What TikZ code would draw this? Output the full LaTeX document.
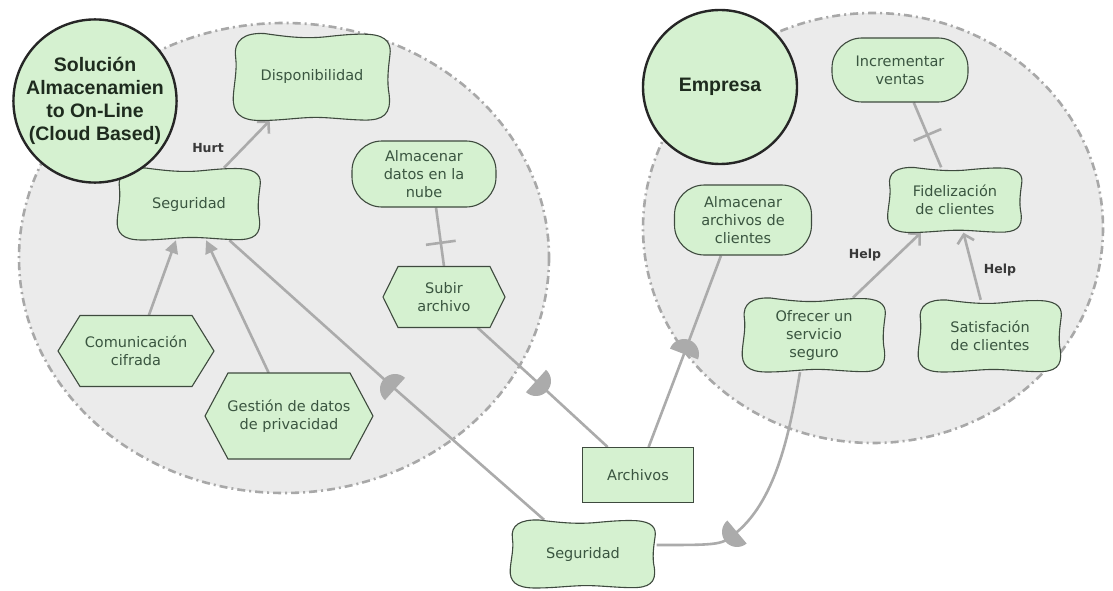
\documentclass[tikz,border=0pt]{standalone}
\usepackage{fontspec}
\setmainfont{DejaVu Sans}
\newfontfamily\actorfont{Liberation Sans}
\usetikzlibrary{calc,arrows.meta}
\definecolor{ngreen}{HTML}{D5F1D0}
\definecolor{nborder}{HTML}{3E4A3E}
\definecolor{ntext}{HTML}{3A5540}
\definecolor{atext}{HTML}{1E2B1E}
\definecolor{ltext}{HTML}{383838}
\definecolor{bfill}{HTML}{EBEBEB}
\definecolor{bline}{HTML}{A8A8A8}
\definecolor{lgray}{HTML}{ABABAB}
\pgfdeclarelayer{bound}
\pgfdeclarelayer{bg}
\pgfsetlayers{bound,bg,main}
\tikzset{
  boundary/.style={fill=bfill, draw=bline, line width=2.6pt, dash pattern=on 8pt off 4pt on 2pt off 4pt},
  actor/.style={circle, draw=black!85, line width=2.4pt, fill=ngreen, inner sep=0pt, align=center, text=atext, font=\actorfont\bfseries\fontsize{19.5}{23}\selectfont},
  nodetext/.style={align=center, text=ntext, font=\fontsize{14.5}{18}\selectfont, inner sep=0pt},
  goal/.style={nodetext, rectangle, rounded corners=30pt, draw=nborder, line width=1.1pt, fill=ngreen},
  resource/.style={nodetext, rectangle, draw=nborder, line width=1pt, fill=ngreen},
  sgtext/.style={nodetext, rectangle},
  shapefill/.style={fill=ngreen, draw=nborder, line width=1.1pt},
  link/.style={draw=lgray, line width=2.6pt},
  contrib/.style={link, -{Straight Barb[length=8pt,width=17pt]}},
  meansend/.style={link, -{Triangle[length=13pt,width=13pt]}},
  lbl/.style={font=\bfseries\fontsize{12.5}{14}\selectfont, text=ltext, inner sep=0pt},
  dmark/.pic={\fill[lgray] (0pt,-15pt) arc[start angle=-90,end angle=90,radius=15pt] -- cycle;}
}
\newcommand\sgoal[6]{%
  \pgfmathsetmacro\sgw{#4/2}%
  \pgfmathsetmacro\sgh{#5/2}%
  \begin{scope}[shift={(#2,#3)}, xscale=\sgw, yscale=\sgh]
    \path[shapefill] (-0.6,-1) .. controls (-0.3,-0.92) and (-0.1,-0.88) .. (0.15,-0.92)
      .. controls (0.35,-0.96) and (0.55,-1.0) .. (0.72,-0.98)
      .. controls (0.95,-0.95) and (1.0,-0.75) .. (0.98,-0.5)
      .. controls (0.96,-0.2) and (0.94,0.1) .. (0.97,0.4)
      .. controls (1.0,0.85) and (0.9,1.0) .. (0.65,0.99)
      .. controls (0.4,0.98) and (0.2,0.92) .. (0,0.93)
      .. controls (-0.2,0.94) and (-0.4,1.0) .. (-0.65,1.0)
      .. controls (-0.92,1.0) and (-1.0,0.8) .. (-0.99,0.45)
      .. controls (-0.98,0.15) and (-0.94,-0.15) .. (-0.96,-0.45)
      .. controls (-0.99,-0.85) and (-0.85,-1.02) .. (-0.6,-1) -- cycle;
  \end{scope}
  \node[sgtext, minimum width=#4pt, minimum height=#5pt] (#1) at (#2,#3) {#6};
}
\newcommand\taskhex[7]{%
  \begin{scope}[shift={(#2,#3)}]
    \path[shapefill] ({-#4/2},0) -- ({-#4/2+#6},{-#5/2}) -- ({#4/2-#6},{-#5/2}) -- ({#4/2},0)
      -- ({#4/2-#6},{#5/2}) -- ({-#4/2+#6},{#5/2}) -- cycle;
  \end{scope}
  \node[sgtext, minimum width=#4pt, minimum height=#5pt] (#1) at (#2,#3) {#7};
}
\begin{document}
\begin{tikzpicture}[x=1pt,y=-1pt]
\useasboundingbox (0,0) rectangle (1113,591);
\begin{pgfonlayer}{bound}
  \fill[white] (0,0) rectangle (1113,591);
  \path[boundary] (284,258) ellipse [x radius=265, y radius=235];
  \path[boundary] (873,228) ellipse [x radius=230, y radius=215];
\end{pgfonlayer}

% softgoals
\sgoal{disp}{312}{77}{159}{87}{Disponibilidad}
\sgoal{segL}{189}{204}{145}{72}{Seguridad}
\sgoal{fid}{955}{200}{136}{65}{Fidelización\\de clientes}
\sgoal{ofrecer}{814}{335}{145}{74}{Ofrecer un\\servicio\\seguro}
\sgoal{satis}{990}{336}{145}{72}{Satisfación\\de clientes}
\sgoal{segB}{583}{554}{147}{68}{Seguridad}

% tasks
\taskhex{subir}{444}{297}{122}{61}{15}{Subir\\archivo}
\taskhex{com}{136}{351}{156}{71}{22}{Comunicación\\cifrada}
\taskhex{gest}{289}{416}{168}{86}{23}{Gestión de datos\\de privacidad}

% goals
\node[goal, minimum width=144pt, minimum height=66pt] (almDatos) at (424,174) {Almacenar\\datos en la\\nube};
\node[goal, minimum width=136pt, minimum height=64pt] (incr) at (900,70) {Incrementar\\ventas};
\node[goal, minimum width=137pt, minimum height=70pt] (almArch) at (743,220) {Almacenar\\archivos de\\clientes};

% resource
\node[resource, minimum width=111pt, minimum height=55pt] (archivos) at (638,475) {Archivos};

% actors
\node[actor, minimum size=158pt] (sa) at (95,101) {Solución\\Almacenamien\\to On-Line\\(Cloud Based)};
\node[actor, minimum size=154pt] (emp) at (720,87) {Empresa};

% labels
\node[lbl] (hurt) at (208,148) {Hurt};
\node[lbl] (help1) at (865,255) {Help};
\node[lbl] (help2) at (1000,270) {Help};

% dependency points
\coordinate (d1) at (536,381);
\coordinate (d2) at (684,354);
\coordinate (d3) at (395,389);
\coordinate (d4) at (737,532);

\begin{pgfonlayer}{bg}
  \draw[contrib] (segL) -- (disp);
  \draw[meansend] (com) -- (segL);
  \draw[meansend] (gest) -- (segL);
  \draw[link] ([xshift=12pt]almDatos.south) -- coordinate[pos=0.6] (x1) (subir.north);
  \draw[link] ($(x1)!15pt!90:(subir.north)$) -- ($(x1)!15pt!-90:(subir.north)$);
  \draw[link] (incr) -- coordinate[pos=0.5] (x2) (fid);
  \draw[link] ($(x2)!15pt!90:(fid)$) -- ($(x2)!15pt!-90:(fid)$);
  \draw[contrib] (ofrecer) -- (fid);
  \draw[contrib] (satis) -- (fid);
  \draw[link] (subir) -- (d1) -- (archivos);
  \draw[link] (archivos) -- (d2) -- ([xshift=-22pt]almArch.south);
  \draw[link] (segB) -- (d3) -- (segL);
  \draw[link] ([xshift=-14pt]ofrecer.south) .. controls (790,430) and (777,498) .. (d4) .. controls (722,545) .. ([yshift=9pt]segB.east);
  \pic[rotate=-42] at (d1) {dmark};
  \pic[rotate=69] at (d2) {dmark};
  \pic[rotate=138] at (d3) {dmark};
  \pic[rotate=-140] at (d4) {dmark};
\end{pgfonlayer}
\end{tikzpicture}
\end{document}
